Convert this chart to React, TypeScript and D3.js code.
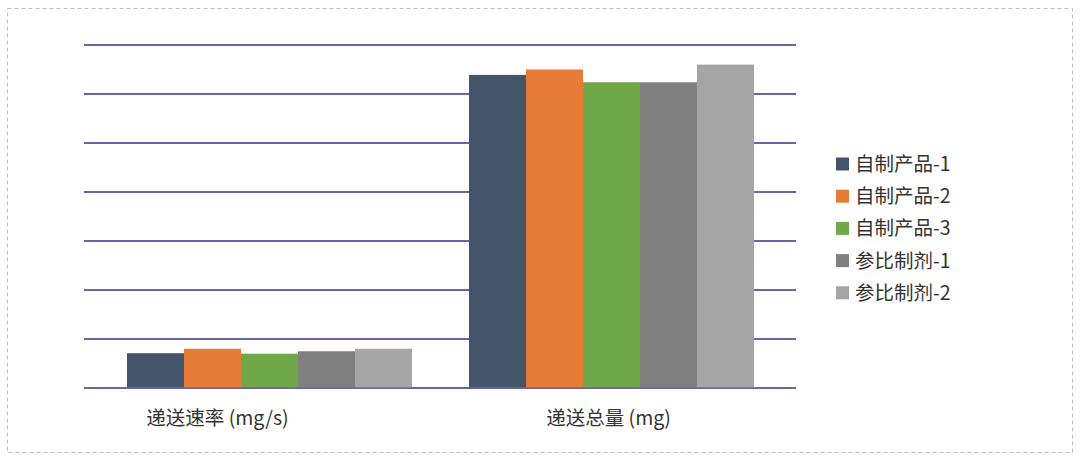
import React, { useEffect, useRef } from 'react';
import * as d3 from 'd3';

const categories = ['递送速率 (mg/s)', '递送总量 (mg)'];
const seriesNames = ['自制产品-1', '自制产品-2', '自制产品-3', '参比制剂-1', '参比制剂-2'];
const seriesColors = ['#44546a', '#e67c35', '#6fa749', '#808080', '#a5a5a5'];
const seriesValues = [
  [0.71, 6.39],
  [0.80, 6.50],
  [0.70, 6.24],
  [0.75, 6.24],
  [0.80, 6.60],
];
const gridTicks = [0, 1, 2, 3, 4, 5, 6, 7];

const App: React.FC = () => {
  const svgRef = useRef<SVGSVGElement>(null);

  useEffect(() => {
    document.body.style.margin = '0';
    if (!svgRef.current) return;

    const width = 1080;
    const height = 461;
    const font = '"Noto Sans CJK SC", "Noto Sans", sans-serif';

    const svg = d3.select(svgRef.current);
    svg.selectAll('*').remove();

    // dashed frame
    svg.append('rect')
      .attr('x', 7.5).attr('y', 8.5)
      .attr('width', 1065).attr('height', 444)
      .attr('fill', 'none')
      .attr('stroke', '#bdbdbd')
      .attr('stroke-width', 1)
      .attr('stroke-dasharray', '4,3');

    const x0 = d3.scaleBand<string>()
      .domain(categories)
      .range([98.5, 782.5])
      .paddingInner(1 / 6)
      .paddingOuter(1 / 12);

    const x1 = d3.scaleBand<string>()
      .domain(seriesNames)
      .range([0, x0.bandwidth()]);

    const y = d3.scaleLinear().domain([0, 7]).range([388, 45]);

    // gridlines
    svg.append('g')
      .selectAll('line')
      .data(gridTicks)
      .enter().append('line')
      .attr('x1', 84).attr('x2', 796)
      .attr('y1', d => y(d)).attr('y2', d => y(d))
      .attr('stroke', '#6866a8')
      .attr('stroke-width', 2);

    // bars
    const groups = svg.append('g')
      .selectAll('g')
      .data(categories)
      .enter().append('g')
      .attr('transform', c => `translate(${x0(c)},0)`);

    groups.selectAll('rect')
      .data((c, ci) => seriesNames.map((s, si) => ({ s, si, v: seriesValues[si][ci] })))
      .enter().append('rect')
      .attr('x', d => x1(d.s)!)
      .attr('y', d => y(d.v))
      .attr('width', x1.bandwidth())
      .attr('height', d => y(0) - y(d.v))
      .attr('fill', d => seriesColors[d.si]);

    // baseline over bars
    svg.append('line')
      .attr('x1', 84).attr('x2', 796)
      .attr('y1', y(0)).attr('y2', y(0))
      .attr('stroke', '#6866a8')
      .attr('stroke-width', 1.5);

    // category labels
    const labelShift = [-52, -3];
    svg.append('g')
      .selectAll('text')
      .data(categories)
      .enter().append('text')
      .attr('x', (c, i) => x0(c)! + x0.bandwidth() / 2 + labelShift[i])
      .attr('y', 425)
      .attr('text-anchor', 'middle')
      .style('font-family', font)
      .style('font-size', '19.5px')
      .attr('fill', '#333')
      .text(c => c);

    // legend
    const legend = svg.append('g')
      .selectAll('g')
      .data(seriesNames)
      .enter().append('g')
      .attr('transform', (s, i) => `translate(836,${164 + i * 32.2})`);

    legend.append('rect')
      .attr('x', 0).attr('y', -6.5)
      .attr('width', 13).attr('height', 13)
      .attr('fill', (s, i) => seriesColors[i]);

    legend.append('text')
      .attr('x', 19)
      .attr('dy', '0.36em')
      .style('font-family', font)
      .style('font-size', '19.5px')
      .attr('fill', '#333')
      .text(s => s);

    svg.attr('width', width).attr('height', height);
  }, []);

  return <svg ref={svgRef} width={1080} height={461} style={{ display: 'block', background: '#fff' }}></svg>;
};

export default App;
